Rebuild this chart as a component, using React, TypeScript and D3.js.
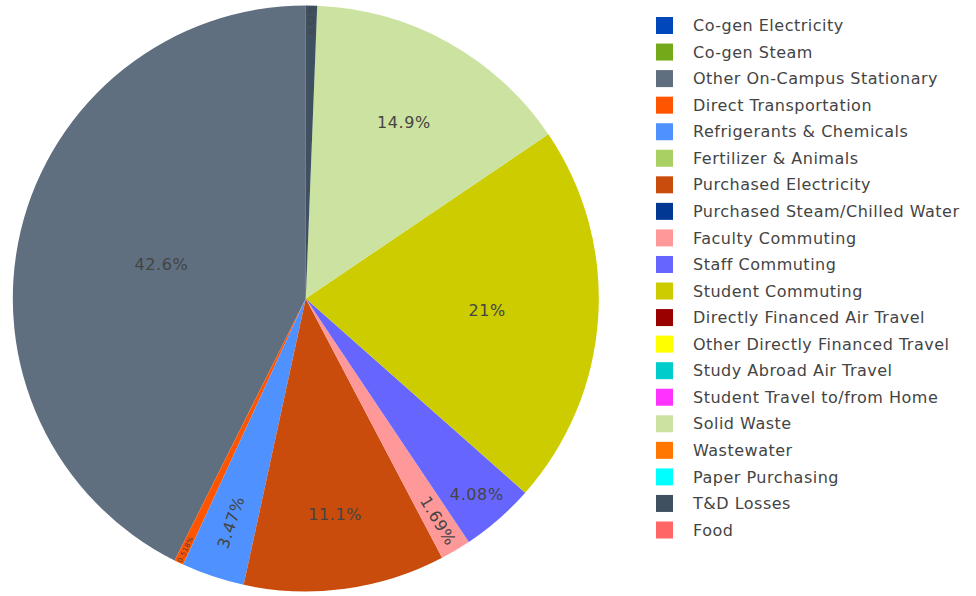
import React from "react";
import * as d3 from "d3";

const categories = [
  "Co-gen Electricity",
  "Co-gen Steam",
  "Other On-Campus Stationary",
  "Direct Transportation",
  "Refrigerants & Chemicals",
  "Fertilizer & Animals",
  "Purchased Electricity",
  "Purchased Steam/Chilled Water",
  "Faculty Commuting",
  "Staff Commuting",
  "Student Commuting",
  "Directly Financed Air Travel",
  "Other Directly Financed Travel",
  "Study Abroad Air Travel",
  "Student Travel to/from Home",
  "Solid Waste",
  "Wastewater",
  "Paper Purchasing",
  "T&D Losses",
  "Food",
];

const values = [0, 0, 42.6, 0.518, 3.47, 0, 11.1, 0, 1.69, 4.08, 21, 0, 0, 0, 0, 14.9, 0, 0, 0.62, 0];

const colors = [
  "#0047bb",
  "#74aa19",
  "#5f6f80",
  "#ff5500",
  "#4f92ff",
  "#a8d063",
  "#c94c0c",
  "#003893",
  "#ff9999",
  "#6666ff",
  "#cccc00",
  "#990000",
  "#ffff00",
  "#00cccc",
  "#ff33ff",
  "#cce2a0",
  "#ff7700",
  "#00ffff",
  "#3f5060",
  "#ff6666",
];

const W = 976;
const H = 596;
const CX = 305.8;
const CY = 298.5;
const R = 293;
const FS = 16;
const FONT = "'DejaVu Sans', Verdana, sans-serif";

const charW: Record<string, number> = { ".": 0.364, "%": 1.076 };
function estWidth(t: string) {
  let s = 0;
  for (const c of t) s += charW[c] ?? 0.636;
  return s;
}

function fmtPct(v: number) {
  let s = (v * 100).toPrecision(3);
  if (s.indexOf(".") !== -1) s = s.replace(/[.]?0+$/, "");
  return s + "%";
}

function calcRotate(t: number) {
  return ((180 / Math.PI) * t + 720) % 180 - 90;
}

function maxHalf(a: number, half: number, r: number) {
  const q = a + 1 / (2 * Math.tan(half));
  return r * Math.min(1 / (Math.sqrt(q * q + 0.5) + q), 1 / (Math.sqrt(a * a + 0.5) + a));
}

function insideTransform(text: string, frac: number, mid: number) {
  const w = estWidth(text) * FS + 2;
  const h = 1.215 * FS;
  const half = Math.PI * Math.min(frac, 0.5);
  const rIns = Math.min(1 / (1 + 1 / Math.sin(half)), 0.5);
  const diam = Math.hypot(w, h);
  const horiz = { scale: (rIns * R * 2) / diam, rCenter: 1 - rIns, rotate: 0 };
  if (horiz.scale >= 1) return horiz;
  const rr = Math.max(0, R - 6);
  const aR = w / h;
  const sR = maxHalf(aR, half, rr);
  const radial = { scale: (sR * 2) / h, rCenter: Math.cos(sR / rr) - (aR * sR) / rr, rotate: calcRotate(mid) };
  const aT = h / w;
  const sT = maxHalf(aT, half, rr);
  const tang = { scale: (sT * 2) / w, rCenter: Math.cos(sT / rr) - (aT * sT) / rr, rotate: calcRotate(mid + Math.PI / 2) };
  let best = horiz;
  for (const t of [radial, tang]) if (t.scale > best.scale) best = t;
  return best;
}

export default function App() {
  const total = d3.sum(values);
  const pie = d3
    .pie<number>()
    .sort(null)
    .startAngle(0)
    .endAngle(-2 * Math.PI)(values);
  const arc = d3.arc<d3.PieArcDatum<number>>().innerRadius(0).outerRadius(R);

  const legendY = d3.scaleLinear().domain([0, categories.length - 1]).range([25.5, 530]);

  return (
    <svg width={W} height={H} style={{ position: "absolute", left: 0, top: 0, background: "#fff" }}>
      <g transform={`translate(${CX},${CY})`}>
        {pie.map((d, i) =>
          d.value > 0 ? <path key={i} d={arc(d) || ""} fill={colors[i]} /> : null
        )}
        {pie.map((d, i) => {
          if (d.value <= 0) return null;
          const frac = d.value / total;
          const text = fmtPct(frac);
          const mid = (d.startAngle + d.endAngle) / 2;
          const t = insideTransform(text, frac, mid);
          const x = R * t.rCenter * Math.sin(mid);
          const y = -R * t.rCenter * Math.cos(mid);
          const s = Math.min(1, t.scale);
          return (
            <g key={"l" + i} transform={`translate(${x},${y}) rotate(${t.rotate}) scale(${s})`}>
              <text
                textAnchor="middle"
                dy="0.35em"
                fontFamily={FONT}
                fontSize={FS}
                letterSpacing="0.6px"
                fill="#444"
              >
                {text}
              </text>
            </g>
          );
        })}
      </g>
      <g>
        {categories.map((c, i) => (
          <g key={c} transform={`translate(0,${legendY(i)})`}>
            <rect x={656} y={-8.5} width={17} height={17} fill={colors[i]} />
            <text
              x={693}
              dy="0.35em"
              fontFamily={FONT}
              fontSize={FS}
              letterSpacing="0.5px"
              fill="#444"
            >
              {c}
            </text>
          </g>
        ))}
      </g>
    </svg>
  );
}
